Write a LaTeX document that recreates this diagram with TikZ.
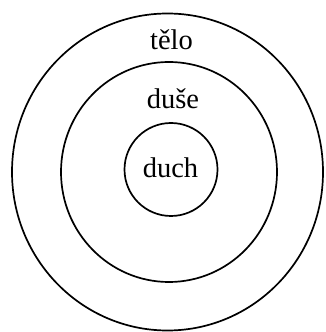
\documentclass[tikz,border=0pt]{standalone}
\usepackage{fontspec}
\setmainfont{Liberation Serif}
\begin{document}
\begin{tikzpicture}[x=1pt,y=1pt,
  ring/.style={line width=1.7pt, draw=black},
  lbl/.style={font=\fontsize{28.5}{30}\selectfont, anchor=base, inner sep=0pt}]
\useasboundingbox (0,0) rectangle (325,332);
\draw[ring] (167.5,160) ellipse [x radius=155.5, y radius=158.5];
\draw[ring] (169,160) ellipse [x radius=108, y radius=110];
\draw[ring] (171,162.5) circle [radius=46.5];
\node[lbl] (telo) at (171.5,282) {tělo};
\node[lbl] (duse) at (173,223) {duše};
\node[lbl] (duch) at (170.5,154) {duch};
\end{tikzpicture}
\end{document}
